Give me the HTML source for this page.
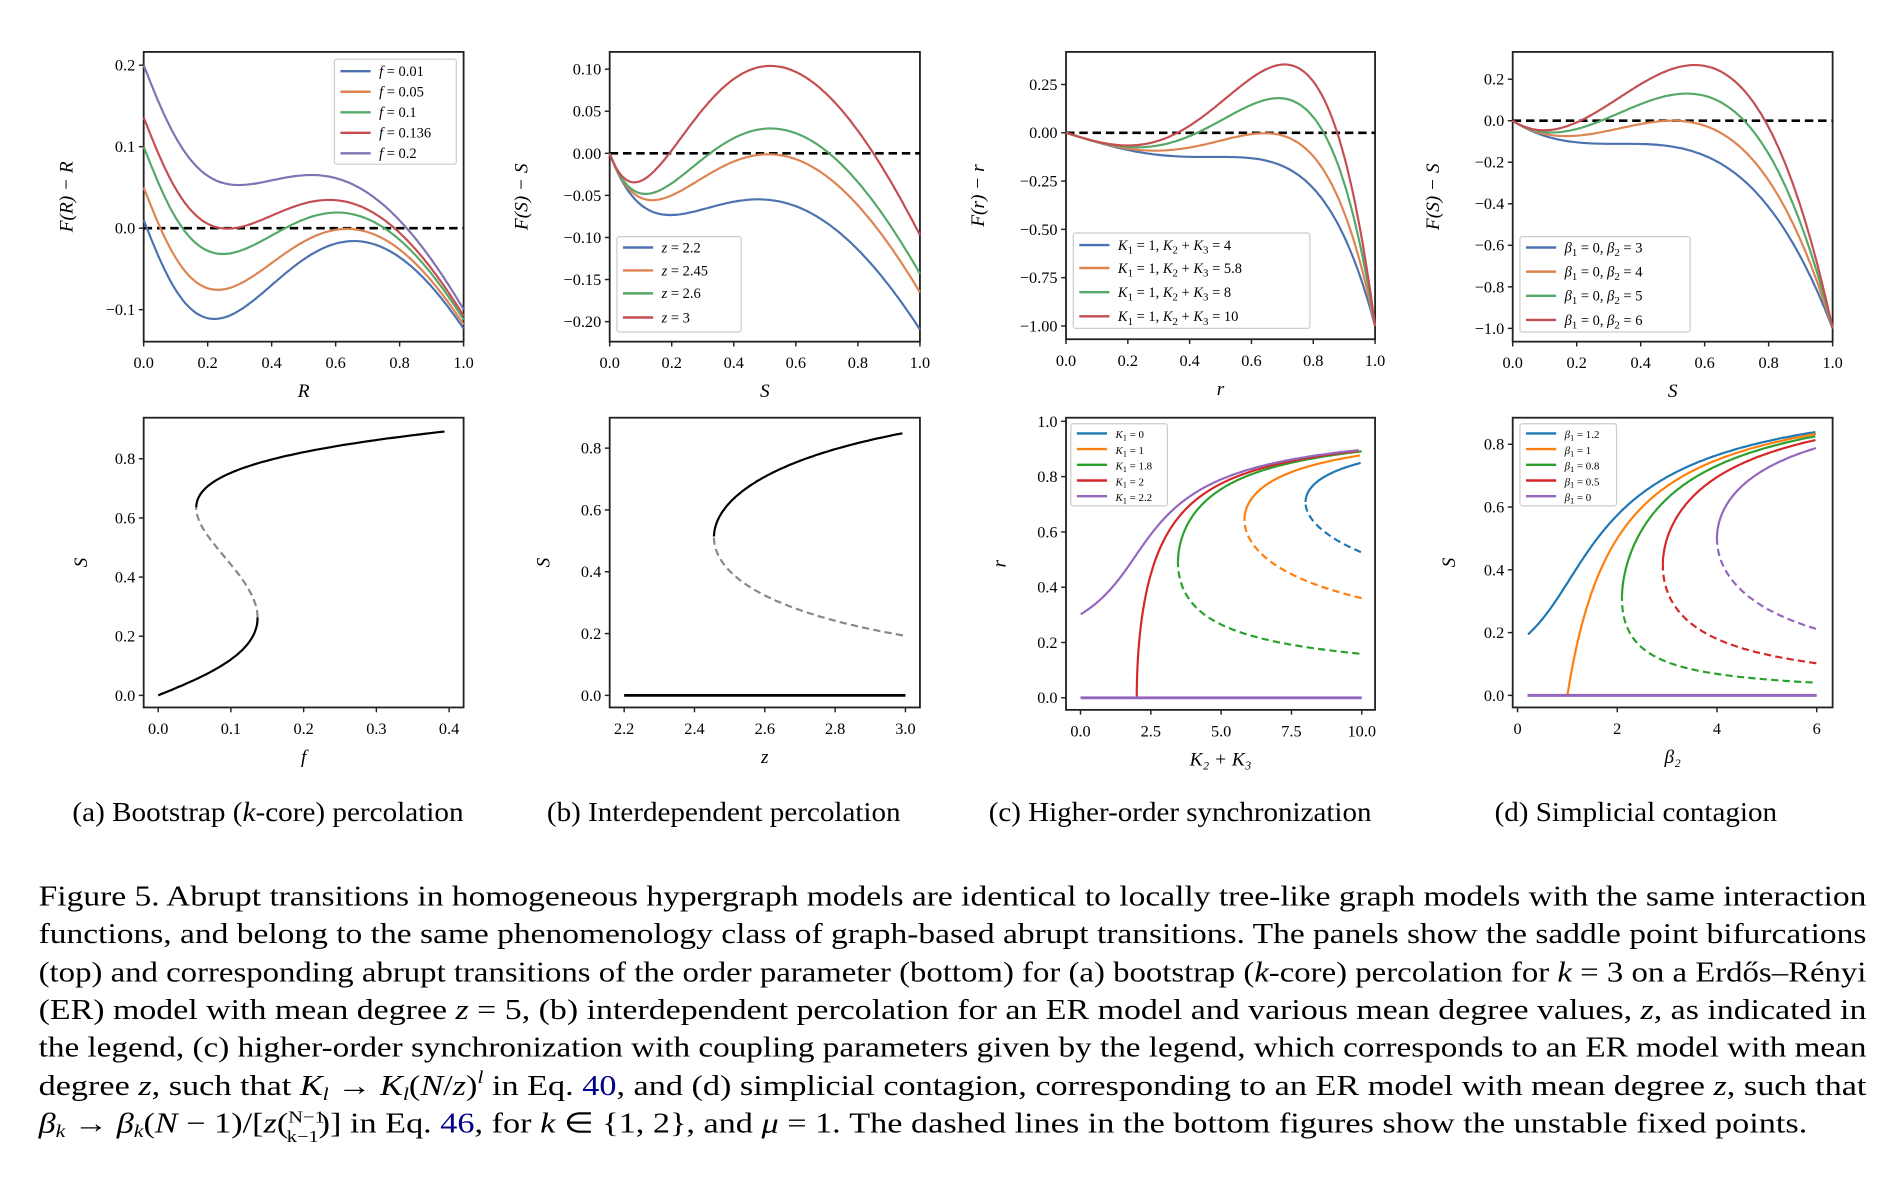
<!DOCTYPE html>
<html><head><meta charset="utf-8"><style>
html,body{margin:0;padding:0;background:#fff;}
svg{display:block;}
text{font-family:"Liberation Serif",serif;fill:#000;}
</style></head><body>
<svg id="s" width="1893" height="1179" viewBox="0 0 1568 976.6" xmlns="http://www.w3.org/2000/svg">
<g id="g"></g>
<g font-size="23">
<text x="60" y="680" textLength="324" lengthAdjust="spacingAndGlyphs">(a)  Bootstrap (<tspan font-style="italic">k</tspan>-core) percolation</text>
<text x="453" y="680" textLength="293" lengthAdjust="spacingAndGlyphs">(b)  Interdependent percolation</text>
<text x="819" y="680" textLength="317" lengthAdjust="spacingAndGlyphs">(c)  Higher-order synchronization</text>
<text x="1238" y="680" textLength="234" lengthAdjust="spacingAndGlyphs">(d)  Simplicial contagion</text>
</g>
<g font-size="23.5">
<text x="32" y="750" textLength="1514" lengthAdjust="spacingAndGlyphs">Figure 5.  Abrupt transitions in homogeneous hypergraph models are identical to locally tree-like graph models with the same interaction</text>
<text x="32" y="781" textLength="1514" lengthAdjust="spacingAndGlyphs">functions, and belong to the same phenomenology class of graph-based abrupt transitions.  The panels show the saddle point bifurcations</text>
<text x="32" y="813" textLength="1514" lengthAdjust="spacingAndGlyphs">(top) and corresponding abrupt transitions of the order parameter (bottom) for (a) bootstrap (<tspan font-style="italic">k</tspan>-core) percolation for <tspan font-style="italic">k</tspan> = 3 on a Erdős–Rényi</text>
<text x="32" y="844" textLength="1514" lengthAdjust="spacingAndGlyphs">(ER) model with mean degree <tspan font-style="italic">z</tspan> = 5, (b) interdependent percolation for an ER model and various mean degree values, <tspan font-style="italic">z</tspan>, as indicated in</text>
<text x="32" y="875" textLength="1514" lengthAdjust="spacingAndGlyphs">the legend, (c) higher-order synchronization with coupling parameters given by the legend, which corresponds to an ER model with mean</text>
<text x="32" y="907" textLength="1514" lengthAdjust="spacingAndGlyphs">degree <tspan font-style="italic">z</tspan>, such that <tspan font-style="italic">K<tspan font-size="15" dy="4">l</tspan></tspan><tspan dy="-4"> → </tspan><tspan font-style="italic">K<tspan font-size="15" dy="4">l</tspan></tspan><tspan dy="-4">(</tspan><tspan font-style="italic">N</tspan>/<tspan font-style="italic">z</tspan>)<tspan font-size="15" dy="-10" font-style="italic">l</tspan><tspan dy="10"> in Eq. </tspan><tspan fill="#00008b">40</tspan>, and (d) simplicial contagion, corresponding to an ER model with mean degree <tspan font-style="italic">z</tspan>, such that</text>
<text x="32" y="938" textLength="1465" lengthAdjust="spacingAndGlyphs"><tspan font-style="italic">β<tspan font-size="15" dy="4">k</tspan></tspan><tspan dy="-4"> → </tspan><tspan font-style="italic">β<tspan font-size="15" dy="4">k</tspan></tspan><tspan dy="-4">(</tspan><tspan font-style="italic">N</tspan> − 1)/[<tspan font-style="italic">z</tspan>(<tspan font-size="14" dy="-8">N−1</tspan><tspan font-size="14" dx="-26" dy="16">k−1</tspan><tspan dy="-8">)] in Eq. </tspan><tspan fill="#00008b">46</tspan>, for <tspan font-style="italic">k</tspan> ∈ {1, 2}, and <tspan font-style="italic">μ</tspan> = 1. The dashed lines in the bottom figures show the unstable fixed points.</text>
</g>
</svg>
<script>
const G=document.getElementById('g');const NS='http://www.w3.org/2000/svg';
function el(t,a,txt){const e=document.createElementNS(NS,t);for(const k in a)e.setAttribute(k,a[k]);if(txt!==undefined)e.textContent=txt;G.appendChild(e);return e;}
const mc=['#4c72b0','#dd8452','#55a868','#c44e52','#8172b3'];
const tc=['#1f77b4','#ff7f0e','#2ca02c','#d62728','#9467bd'];
function fmt(v,d){let s=v.toFixed(d);if(v<-1e-9)s='−'+(-v).toFixed(d);return s;}
function axes(o){
 el('rect',{x:o.x0,y:o.y0,width:o.x1-o.x0,height:o.y1-o.y0,fill:'none',stroke:'#222','stroke-width':1.5});
 o.xt.forEach(v=>{const X=o.X(v);el('line',{x1:X,x2:X,y1:o.y1,y2:o.y1+4,stroke:'#222','stroke-width':1.2});el('text',{x:X,y:o.y1+22,'text-anchor':'middle','font-size':13.5},o.xf(v));});
 o.yt.forEach(v=>{const Y=o.Y(v);el('line',{x1:o.x0-4,x2:o.x0,y1:Y,y2:Y,stroke:'#222','stroke-width':1.2});el('text',{x:o.x0-7,y:Y+4.5,'text-anchor':'end','font-size':13.5},o.yf(v));});
 el('text',{x:(o.x0+o.x1)/2,y:o.y1+46,'text-anchor':'middle','font-size':16,'font-style':'italic'},o.xl);
 el('text',{x:o.ylx,y:(o.y0+o.y1)/2,'text-anchor':'middle','font-size':16,'font-style':'italic',transform:`rotate(-90 ${o.ylx} ${(o.y0+o.y1)/2})`},o.yl);
}
function line(pts,c,dash,w){if(pts.length<2)return;el('path',{d:'M'+pts.map(p=>p[0].toFixed(1)+','+p[1].toFixed(1)).join('L'),fill:'none',stroke:c,'stroke-width':w||1.8,'stroke-dasharray':dash||'none'});}
function legend(x0,y0,x1,y1,ys,labels,cols,fs){
 el('rect',{x:x0,y:y0,width:x1-x0,height:y1-y0,fill:'#fff',stroke:'#ccc','stroke-width':1,rx:2});
 ys.forEach((y,i)=>{el('line',{x1:x0+5,x2:x0+30,y1:y,y2:y,stroke:cols[i],'stroke-width':2});const t=el('text',{x:x0+37,y:y+4,'font-size':fs||12});t.innerHTML=labels[i];});
}
function splitStab(arr,isStable,X,Y,c,dashC){
 let seg=[],cur=null;
 arr.forEach(p=>{const s=p[2];if(cur!==null&&s!==cur){seg.push([X(p[0]),Y(p[1])]);line(seg,cur?c:(dashC||c),cur?null:'6,3.5');seg=[];}cur=s;seg.push([X(p[0]),Y(p[1])]);});
 line(seg,cur?c:(dashC||c),cur?null:'6,3.5');
}
function range(a,b,n){const r=[];for(let i=0;i<=n;i++)r.push(a+(b-a)*i/n);return r;}
function P3(R){const m=5*R;return 1-Math.exp(-m)*(1+m+m*m/2);}
{const X=v=>119+265*v,Y=v=>189-675*v;
axes({x0:119,x1:384,y0:43,y1:283,X,Y,xt:[0,.2,.4,.6,.8,1],yt:[.2,.1,0,-.1],xf:v=>v.toFixed(1),yf:v=>fmt(v,1),xl:'R',yl:'F(R) − R',ylx:60});
line([[119,189],[384,189]],'#000','7,4',2.2);
[0.01,0.05,0.1,0.136,0.2].forEach((f,i)=>line(range(0,1,200).map(R=>[X(R),Y(f+(1-f)*P3(R)-R)]),mc[i]));
legend(277,49,378,136,[59,76,93,110,127],['<tspan font-style="italic">f</tspan> = 0.01','<tspan font-style="italic">f</tspan> = 0.05','<tspan font-style="italic">f</tspan> = 0.1','<tspan font-style="italic">f</tspan> = 0.136','<tspan font-style="italic">f</tspan> = 0.2'],mc);}
{const X=v=>505+257*v,Y=v=>127-697*v;
axes({x0:505,x1:762,y0:43,y1:283,X,Y,xt:[0,.2,.4,.6,.8,1],yt:[.1,.05,0,-.05,-.1,-.15,-.2],xf:v=>v.toFixed(1),yf:v=>fmt(v,2),xl:'S',yl:'F(S) − S',ylx:437});
line([[505,127],[762,127]],'#000','7,4',2.2);
[2.2,2.45,2.6,3].forEach((z,i)=>line(range(0,1,200).map(S=>[X(S),Y(Math.pow(1-Math.exp(-z*S),2)-S)]),mc[i]));
legend(511,196,614,275,[205,224,243,263],['<tspan font-style="italic">z</tspan> = 2.2','<tspan font-style="italic">z</tspan> = 2.45','<tspan font-style="italic">z</tspan> = 2.6','<tspan font-style="italic">z</tspan> = 3'],mc);}
{const X=v=>883+256*v,Y=v=>110-160*v;
axes({x0:883,x1:1139,y0:43,y1:281,X,Y,xt:[0,.2,.4,.6,.8,1],yt:[.25,0,-.25,-.5,-.75,-1],xf:v=>v.toFixed(1),yf:v=>fmt(v,2),xl:'r',yl:'F(r) − r',ylx:815});
line([[883,110],[1139,110]],'#000','7,4',2.2);
[4,5.8,8,10].forEach((K,i)=>line(range(0,1,200).map(r=>[X(r),Y(r*(-0.5-0.5*r*r+K/2*r*r*(1-r*r)))]),mc[i]));
const L=i=>'<tspan font-style="italic">K</tspan><tspan font-size="9" dy="3">1</tspan><tspan dy="-3"> = 1, </tspan><tspan font-style="italic">K</tspan><tspan font-size="9" dy="3">2</tspan><tspan dy="-3"> + </tspan><tspan font-style="italic">K</tspan><tspan font-size="9" dy="3">3</tspan><tspan dy="-3"> = '+i+'</tspan>';
legend(889,193,1085,272,[203,222,242,262],[L(4),L(5.8),L(8),L(10)],mc);}
{const X=v=>1253+265*v,Y=v=>100-172*v;
axes({x0:1253,x1:1518,y0:43,y1:283,X,Y,xt:[0,.2,.4,.6,.8,1],yt:[.2,0,-.2,-.4,-.6,-.8,-1],xf:v=>v.toFixed(1),yf:v=>fmt(v,1),xl:'S',yl:'F(S) − S',ylx:1192});
line([[1253,100],[1518,100]],'#000','7,4',2.2);
[3,4,5,6].forEach((b,i)=>line(range(0,1,200).map(s=>[X(s),Y(-s+b*s*s*(1-s))]),mc[i]));
const L=i=>'<tspan font-style="italic">β</tspan><tspan font-size="9" dy="3">1</tspan><tspan dy="-3"> = 0, </tspan><tspan font-style="italic">β</tspan><tspan font-size="9" dy="3">2</tspan><tspan dy="-3"> = '+i+'</tspan>';
legend(1259,196,1400,275,[205,225,245,265],[L(3),L(4),L(5),L(6)],mc);}
{const X=v=>131+602.5*v,Y=v=>576-245*v;
axes({x0:119,x1:384,y0:346,y1:586,X,Y,xt:[0,.1,.2,.3,.4],yt:[0,.2,.4,.6,.8],xf:v=>v.toFixed(1),yf:v=>v.toFixed(1),xl:'f',yl:'S',ylx:72});
const arr=[];let prev=null;
for(let R=0;R<=0.95;R+=0.002){const p=P3(R);const f=(R-p)/(1-p);if(f>0.4)break;const st=prev===null?true:f>=prev;arr.push([f,R,st]);prev=f;}
splitStab(arr,null,X,Y,'#000','#888');}
{const X=v=>517+291.25*v-2.2*291.25,Y=v=>576-256*v;
axes({x0:505,x1:762,y0:346,y1:586,X,Y,xt:[2.2,2.4,2.6,2.8,3.0],yt:[0,.2,.4,.6,.8],xf:v=>v.toFixed(1),yf:v=>v.toFixed(1),xl:'z',yl:'S',ylx:455});
line([[X(2.2),Y(0)],[X(3),Y(0)]],'#000',null,2.2);
const zf=S=>-Math.log(1-Math.sqrt(S))/S;
const arr=[];let prev=null;
for(let S=0.1;S<0.95;S+=0.002){const z=zf(S);if(z>3.0){if(S<0.5)continue;else break;}const st=prev===null?false:z>=prev;arr.push([z,S,st]);prev=z;}
if(arr.length>1)arr[0][2]=arr[1][2];
splitStab(arr,null,X,Y,'#000','#888');}
{const X=v=>895+23.3*v,Y=v=>578-229*v;
axes({x0:883,x1:1139,y0:346,y1:588,X,Y,xt:[0,2.5,5,7.5,10],yt:[0,.2,.4,.6,.8,1],xf:v=>v.toFixed(1),yf:v=>v.toFixed(1),xl:'K₂ + K₃',yl:'r',ylx:833});
[0,1,1.8,2,2.2].forEach((K1,i)=>{const arr=[];let prev=null;
 for(let r=0.0005;r<0.99;r+=0.0015){const K=(2-K1*(1-r*r))/(r*r*(1-r*r));if(K<0||K>10){prev=K;continue;}const st=prev===null?true:K>=prev;arr.push([K,r,st]);prev=K;}
 if(K1===2)arr.unshift([2,0,true]);
 splitStab(arr,null,X,Y,tc[i]);});
line([[X(0),Y(0)],[X(10),Y(0)]],tc[4],null,2.4);
const L=(v)=>'<tspan font-style="italic">K</tspan><tspan font-size="7" dy="2">1</tspan><tspan dy="-2"> = '+v+'</tspan>';
legend(887,351,967,419,[359,372,385,398,411],[L(0),L(1),L(1.8),L(2),L(2.2)],tc,9);}
{const X=v=>1257+41.3*v,Y=v=>576-260*v;
axes({x0:1253,x1:1518,y0:346,y1:586,X,Y,xt:[0,2,4,6],yt:[0,.2,.4,.6,.8],xf:v=>v.toFixed(0),yf:v=>v.toFixed(1),xl:'β₂',yl:'S',ylx:1205});
[1.2,1,0.8,0.5,0].forEach((b1,i)=>{const arr=[];let prev=null;
 for(let s=0.005;s<0.99;s+=0.0015){const b=(1-b1*(1-s))/(s*(1-s));if(b<0.2||b>6){prev=b;continue;}const st=prev===null?true:b>=prev;arr.push([b,s,st]);prev=b;}
 if(b1===1)arr.unshift([1,0,true]);
 splitStab(arr,null,X,Y,tc[i]);});
line([[X(0.2),Y(0)],[X(6),Y(0)]],tc[4],null,2.4);
const L=(v)=>'<tspan font-style="italic">β</tspan><tspan font-size="7" dy="2">1</tspan><tspan dy="-2"> = '+v+'</tspan>';
legend(1259,351,1339,419,[359,372,385,398,411],[L(1.2),L(1),L(0.8),L(0.5),L(0)],tc,9);}
</script>
</body></html>
